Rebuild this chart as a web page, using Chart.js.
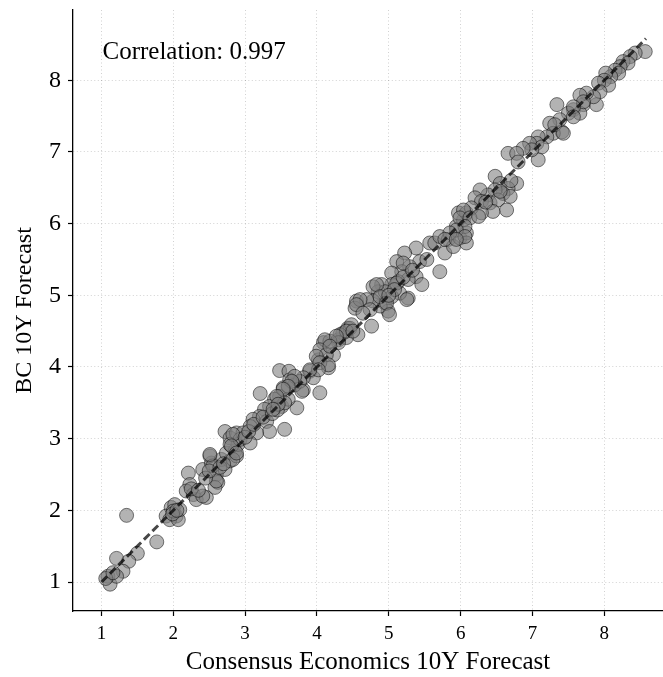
<!DOCTYPE html>
<html>
<head>
<meta charset="utf-8">
<script src="https://cdn.jsdelivr.net/npm/chart.js@4"></script>
<style>
    html, body { margin: 0; padding: 0; background: #fff; overflow: hidden; }
    #wrap { width: 663px; height: 677px; }
</style>
</head>
<body>
<div id="wrap"><canvas id="myChart"></canvas></div>
<script>
// Consensus Economics 10Y forecast (x) vs BC 10Y forecast (y)
const ceX = [
    1.35, 1.77, 1.50, 1.21, 1.38, 1.30, 1.09, 1.12, 1.21, 1.06, 1.16,
    1.97, 1.90, 2.04, 2.02, 1.95, 2.07, 2.00, 2.09, 1.99, 2.05,
    2.21, 2.23, 2.18, 2.28, 2.32, 2.46, 2.41, 2.53, 2.51, 2.60, 2.62, 2.58, 2.72, 2.67, 2.79, 2.74,
    2.86, 2.88, 2.72, 2.79, 2.88, 2.90, 2.79, 2.41, 2.60, 2.55, 2.83, 2.25, 2.35, 2.45, 2.50, 2.65, 2.70,
    3.48, 3.61, 3.21, 4.04, 3.72, 3.55, 3.90, 3.95, 3.81, 4.02, 4.09, 4.16, 4.23, 4.30, 4.36, 4.43,
    3.62, 3.69, 3.53, 3.48, 3.41, 3.34, 3.27, 3.51, 3.60, 3.20, 3.11, 3.07, 2.97, 3.30, 3.34, 2.93,
    2.83, 2.81, 2.51, 2.88, 3.16, 3.07, 3.00, 3.05, 3.12, 3.25, 3.38, 3.45, 3.55,
    4.55, 4.53, 4.46, 4.57, 4.41, 4.32, 4.30, 4.18, 4.11, 4.04, 4.13, 3.99, 4.04, 4.16, 4.02, 3.90,
    3.81, 3.76, 3.69, 3.65, 3.60, 3.53, 3.79, 3.44, 3.46, 3.39,
    5.71, 5.57, 5.38, 5.22, 5.11, 5.43, 5.53, 5.29, 5.18, 5.04, 5.38, 5.46, 5.27, 5.13, 5.04, 4.90,
    4.85, 4.95, 4.78, 5.27, 5.15, 5.04, 4.95, 4.99, 4.88, 4.78, 4.69, 4.60, 4.55, 4.74, 4.64, 4.76,
    4.48, 4.41, 4.27, 4.18, 4.50, 5.64, 5.71, 5.83, 5.78, 5.90, 5.99, 5.94, 6.04, 5.97, 6.08, 6.08,
    6.08, 5.20, 5.11, 4.83, 4.88, 4.97, 5.01, 5.25, 5.08, 5.00, 5.20, 5.33,
    7.34, 7.57, 7.71, 7.66, 7.50, 7.38, 7.24, 7.41, 7.29, 7.20, 7.08, 7.06, 6.96, 7.13, 7.08, 6.99,
    6.87, 6.66, 6.78, 6.80, 6.78, 6.48, 6.55, 6.66, 6.59, 6.69, 6.48, 6.38, 6.27, 6.20, 6.29, 6.41,
    6.52, 6.64, 6.45, 6.29, 6.15, 6.04, 5.99, 6.13, 6.25, 6.06, 5.94, 5.85, 6.06, 5.78, 5.94, 6.35,
    6.55, 6.70,
    8.57, 8.43, 8.36, 8.26, 8.33, 8.22, 8.15, 8.20, 8.09, 8.02, 8.00, 8.06, 7.92, 7.94, 7.89, 7.85,
    7.75, 7.66, 7.71, 7.57, 7.57, 7.31, 7.43
];
const bcY = [
    1.93, 1.56, 1.40, 1.33, 1.29, 1.15, 1.08, 0.97, 1.08, 1.05, 1.13,
    2.04, 1.92, 1.92, 2.08, 1.87, 1.87, 1.99, 2.01, 1.95, 2.00,
    2.52, 2.36, 2.27, 2.22, 2.15, 2.18, 2.57, 2.66, 2.76, 2.50, 2.39, 2.32, 2.57, 2.71, 2.69, 2.80,
    2.83, 2.76, 3.10, 3.01, 3.08, 2.92, 2.92, 2.20, 2.41, 2.62, 2.71, 2.30, 2.28, 2.45, 2.55, 2.60, 2.65,
    3.95, 3.94, 3.63, 3.64, 3.43, 3.13, 3.94, 3.85, 3.68, 4.10, 4.34, 3.99, 4.17, 4.38, 4.47, 4.54,
    3.82, 3.75, 3.71, 3.59, 3.55, 3.45, 3.41, 3.45, 3.55, 3.31, 3.27, 3.17, 3.08, 3.24, 3.10, 2.99,
    3.06, 2.90, 2.78, 2.80, 3.08, 2.94, 3.02, 3.10, 3.20, 3.30, 3.35, 3.40, 3.50,
    4.92, 4.82, 4.54, 4.45, 4.41, 4.45, 4.34, 4.36, 4.38, 4.24, 4.17, 4.15, 4.06, 4.03, 3.96, 3.96,
    3.85, 3.80, 3.87, 3.80, 3.73, 3.69, 3.66, 3.59, 3.48, 3.41,
    5.33, 5.73, 5.66, 5.59, 5.47, 5.47, 5.50, 5.40, 5.33, 5.31, 5.26, 5.15, 5.22, 5.19, 5.15, 5.15,
    5.05, 5.05, 5.12, 4.96, 5.03, 4.98, 4.89, 4.78, 4.85, 4.92, 4.94, 4.94, 4.87, 4.80, 4.75, 4.57,
    4.59, 4.50, 4.43, 4.29, 4.50, 5.73, 5.82, 5.78, 5.59, 5.68, 5.80, 5.96, 6.05, 6.15, 6.15, 5.87,
    5.73, 5.45, 5.17, 5.15, 4.98, 4.89, 4.73, 4.94, 5.08, 5.00, 5.25, 5.35,
    7.66, 7.59, 7.66, 7.54, 7.54, 7.45, 7.40, 7.28, 7.26, 7.21, 7.21, 7.12, 7.12, 7.07, 6.89, 7.03,
    7.05, 6.98, 6.98, 6.86, 6.56, 6.66, 6.56, 6.49, 6.42, 6.38, 6.47, 6.40, 6.47, 6.36, 6.31, 6.29,
    6.33, 6.19, 6.17, 6.15, 6.22, 6.19, 6.08, 6.08, 6.10, 5.96, 5.91, 5.87, 5.82, 5.78, 5.78, 6.30,
    6.45, 6.60,
    8.40, 8.38, 8.33, 8.26, 8.24, 8.19, 8.14, 8.10, 8.05, 8.10, 8.00, 7.93, 7.96, 7.84, 7.66, 7.77,
    7.82, 7.79, 7.70, 7.63, 7.49, 7.38, 7.26
];

// dashed reference line (y = x) end points
const lineX = [1.0, 8.58];
const lineY = [1.0, 8.58];

const xTicks = [1, 2, 3, 4, 5, 6, 7, 8];
const yTicks = [1, 2, 3, 4, 5, 6, 7, 8];
const corrLabel = 'Correlation: 0.997';

const serif = '"Liberation Serif", "DejaVu Serif", serif';

const points = ceX.map((x, i) => ({ x: x, y: bcY[i] }));
const fitLine = lineX.map((x, i) => ({ x: x, y: lineY[i] }));

// no extra label padding, so the plot area sits where the reference has it
function noPad(axis) {
    axis.paddingTop = 0;
    axis.paddingBottom = 0;
    axis.paddingLeft = 0;
    axis.paddingRight = 0;
}

const corrText = {
    id: 'corrText',
    afterDraw(chart) {
        const { ctx, chartArea } = chart;
        ctx.save();
        ctx.font = '25px ' + serif;
        ctx.fillStyle = '#000';
        ctx.textAlign = 'left';
        ctx.textBaseline = 'top';
        const w = chartArea.right - chartArea.left;
        const h = chartArea.bottom - chartArea.top;
        ctx.fillText(corrLabel, chartArea.left + 0.05 * w, chartArea.top + 0.05 * h);
        ctx.restore();
    }
};

const data = {
    datasets: [
        {
            type: 'line',
            data: fitLine,
            borderColor: 'rgba(0, 0, 0, 0.72)',
            borderWidth: 3,
            borderDash: [8, 4],
            pointRadius: 0,
            fill: false
        },
        {
            type: 'scatter',
            data: points,
            backgroundColor: 'rgba(128, 128, 128, 0.6)',
            borderColor: 'rgba(0, 0, 0, 0.5)',
            borderWidth: 1,
            pointRadius: 7
        }
    ]
};

const config = {
    type: 'scatter',
    data: data,
    options: {
        responsive: true,
        maintainAspectRatio: false,
        animation: false,
        events: [],
        layout: { autoPadding: false, padding: { top: 10, right: 0, left: 0, bottom: 0 } },
        plugins: {
            legend: { display: false },
            tooltip: { enabled: false }
        },
        scales: {
            x: {
                type: 'linear',
                min: 0.604,
                max: 8.817,
                afterBuildTicks: (axis) => { axis.ticks = xTicks.map(v => ({ value: v })); },
                afterFit: (axis) => { axis.height = 66; noPad(axis); },
                grid: {
                    color: 'rgba(0, 0, 0, 0.18)',
                    lineWidth: 1,
                    tickLength: 5,
                    tickColor: '#000',
                    tickWidth: 1.2
                },
                border: { display: true, color: '#000', width: 1.3, dash: [1, 2.5] },
                ticks: {
                    color: '#000',
                    padding: 7,
                    font: { family: serif, size: 19 }
                },
                title: {
                    display: true,
                    text: 'Consensus Economics 10Y Forecast',
                    color: '#000',
                    font: { family: serif, size: 25 },
                    padding: { top: 0, bottom: 0 }
                }
            },
            y: {
                type: 'linear',
                min: 0.596,
                max: 8.98,
                afterBuildTicks: (axis) => { axis.ticks = yTicks.map(v => ({ value: v })); },
                afterFit: (axis) => { axis.width = 73; noPad(axis); },
                grid: {
                    color: 'rgba(0, 0, 0, 0.18)',
                    lineWidth: 1,
                    tickLength: 5,
                    tickColor: '#000',
                    tickWidth: 1.2
                },
                border: { display: true, color: '#000', width: 1.3, dash: [1, 2.5] },
                ticks: {
                    color: '#000',
                    padding: 7,
                    font: { family: serif, size: 24 }
                },
                title: {
                    display: true,
                    text: 'BC 10Y Forecast',
                    color: '#000',
                    font: { family: serif, size: 24 },
                    padding: { top: 10, bottom: 0 }
                }
            }
        }
    },
    plugins: [corrText]
};

const myChart = new Chart(document.getElementById('myChart'), config);
</script>
</body>
</html>
